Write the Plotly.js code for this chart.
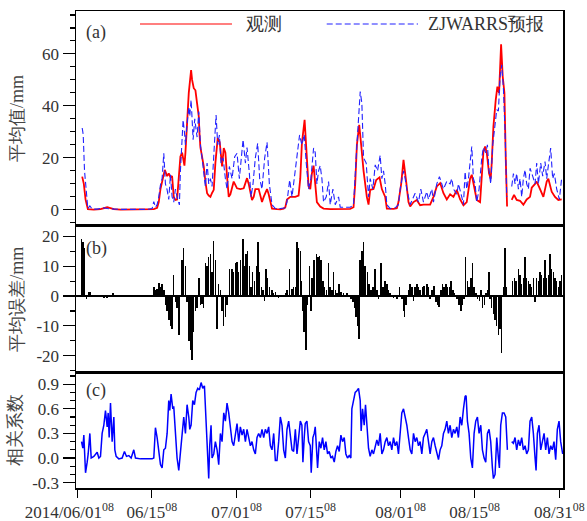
<!DOCTYPE html>
<html>
<head>
<meta charset="utf-8">
<script src="https://cdn.plot.ly/plotly-3.0.1.min.js"></script>
<style>html,body{margin:0;padding:0;background:#fff;}#chart{width:587px;height:521px;}</style>
</head>
<body>
<div id="chart"></div>
<script>
// Time axis: days after 2014/06/01 08 (Beijing time)
const tickDays = [0, 14, 30, 44, 61, 75, 91];
const tickLabels = ["2014/06/01<sup>08</sup>\u00a0\u00a0\u00a0\u00a0", "06/15<sup>08</sup>", "07/01<sup>08</sup>", "07/15<sup>08</sup>", "08/01<sup>08</sup>", "08/15<sup>08</sup>", "08/31<sup>08</sup>"];

// (a) observed mean rainfall [day, mm]
const observed = [[0.83,12.8],[1.14,10],[1.46,4],[1.90,0.3],[2.40,0.2],[3.03,0.1],[4.29,0.3],[4.92,0.8],[5.55,1.0],[6.18,0.7],[6.81,0.3],[8.07,0.1],[9.32,0.1],[10.58,0.1],[11.84,0.1],[13.10,0.1],[14.36,0.3],[14.99,0.8],[15.30,3],[15.62,8],[15.93,11],[16.44,15.4],[16.88,13],[17.19,14],[17.51,12.5],[17.82,13],[18.13,5],[18.45,3.8],[18.76,4],[19.08,12],[19.39,20.5],[19.71,22],[20.02,19],[20.15,17],[20.34,22],[20.65,35],[20.97,45],[21.41,53.8],[21.60,50],[21.91,46.8],[22.23,46],[22.54,41],[22.86,36],[22.98,30],[23.17,24],[23.48,20.5],[23.80,16.7],[24.11,11],[24.43,6.4],[24.74,5.5],[25.06,5],[25.37,6.5],[25.69,7.7],[26.00,18],[26.44,27.6],[26.82,26],[27.26,16.7],[27.58,23.8],[27.89,22],[28.20,13],[28.52,5],[28.83,6],[29.46,10.9],[30.09,8.3],[30.72,8],[31.35,8.3],[31.98,12.2],[32.30,10],[32.61,6],[32.92,3.8],[33.24,5],[33.55,8],[34.18,8],[34.50,5],[34.81,3],[35.13,5],[35.76,8],[36.07,6],[36.39,3],[36.70,0.5],[37.64,0.3],[38.27,0.2],[38.90,0.5],[39.22,1],[39.53,4],[40.16,5],[41.09,5],[41.72,5.5],[42.04,12],[42.35,25.6],[42.86,34.6],[43.30,20],[43.61,9],[43.93,8],[44.24,14],[44.56,17],[44.87,10],[45.18,3],[45.81,1.3],[46.44,0.5],[47.70,0.3],[48.96,0.3],[50.22,0.3],[51.48,0.4],[52.11,1],[52.42,10],[52.74,25],[53.18,32.7],[53.55,25],[54.00,15],[54.62,5],[54.94,2],[55.25,7.7],[55.88,8],[56.39,11.5],[57.02,12.5],[57.46,8],[58.09,5],[58.40,0.5],[59.03,0.4],[59.66,0.4],[60.29,0.6],[60.60,3],[61.11,10],[61.55,19.2],[61.99,12],[62.49,3],[62.81,1.3],[63.44,3],[64.06,3.8],[64.69,1.8],[65.32,2],[66.58,2],[67.21,5],[67.84,9],[68.47,10.3],[69.10,6.4],[69.73,4],[70.36,6],[70.99,5],[71.62,7.7],[72.25,4],[72.88,1.8],[73.50,3],[74.13,12],[74.45,13.5],[74.76,10],[75.39,3.8],[76.02,3],[76.34,15],[76.65,22.4],[76.97,24.4],[77.28,22],[77.72,14],[78.03,12],[78.22,18],[78.54,32],[78.98,42.3],[79.29,47.4],[79.61,45],[79.99,63.7],[80.30,51.3],[80.62,45],[80.87,20],[81.12,1.3],[81.5,null],[82.00,3.8],[82.44,5.8],[82.94,3.8],[83.57,3.5],[84.20,2],[84.83,4],[85.46,5],[85.78,8.5],[86.41,10],[86.72,10.9],[87.35,8],[87.98,5],[88.61,10.9],[88.92,12],[89.55,7],[90.18,5],[90.81,3.8],[91.44,4]];

// (a) ZJWARRS forecast mean rainfall [day, mm]
const forecast = [[0.83,31.5],[1.02,29],[1.27,15],[1.52,8],[1.90,0.5],[2.28,1.5],[2.72,0.3],[3.66,0.3],[4.92,0.8],[5.55,0.5],[6.81,0.3],[8.07,0.2],[9.32,0.2],[10.58,0.3],[11.84,0.2],[13.10,0.2],[14.04,0.5],[14.36,3.2],[14.67,1],[14.99,2],[15.30,5],[15.62,9.6],[15.93,12],[16.25,21.8],[16.56,10],[16.88,7.7],[17.19,4],[17.51,13.5],[17.82,5],[18.13,3],[18.45,8],[18.76,5],[19.20,1.9],[19.39,15],[19.71,28],[19.90,34.6],[20.15,30],[20.34,25],[20.65,33],[20.97,39.7],[21.16,36],[21.41,42.3],[21.60,35],[21.79,27],[22.10,35],[22.35,32],[22.54,28],[22.86,37.8],[23.17,25],[23.48,20],[23.80,15],[24.11,9],[24.43,18],[24.74,10],[25.06,12],[25.37,9],[25.81,25],[26.13,36.5],[26.44,25],[26.76,28.8],[27.07,18],[27.45,20],[27.89,12],[28.20,8],[28.64,16.7],[29.15,12],[29.65,20.5],[30.09,21.8],[30.53,12],[30.85,18],[31.23,27],[31.67,18],[31.98,24],[32.42,14],[32.74,5],[33.11,10],[33.55,20],[33.99,25.6],[34.37,12],[34.81,8],[35.31,19.9],[35.76,26],[36.20,10],[36.70,2],[37.33,0.5],[38.27,0.5],[39.22,0.8],[39.53,3],[40.04,11.5],[40.48,5],[41.41,20],[41.91,28.8],[42.35,25],[42.79,29],[43.17,18],[43.61,8],[44.05,12],[44.56,23.8],[44.87,22],[45.18,10],[45.50,15],[45.81,17],[46.13,12],[46.44,3],[46.95,5],[47.39,10.9],[47.70,2],[48.21,8],[48.65,2],[49.28,5],[49.59,1],[50.53,1],[51.48,1],[52.11,2],[52.42,15],[52.74,25],[53.05,35],[53.37,45.5],[53.68,41],[54.00,20],[54.50,18],[54.94,5],[55.25,12],[55.76,8],[56.20,17.3],[56.64,15],[57.14,21],[57.46,12],[57.77,15],[58.09,10],[58.40,2],[59.03,0.5],[59.97,0.8],[60.60,2],[60.92,8],[61.55,15],[61.86,12],[62.18,8],[62.81,2],[63.44,5],[63.75,6.4],[64.38,3],[64.82,8],[65.32,3],[65.95,7],[66.27,4],[66.90,8],[67.21,3],[67.84,10],[68.34,12.8],[68.78,10],[69.10,8],[69.73,11],[70.36,10],[70.67,12],[70.99,8],[71.62,6],[71.93,10],[72.56,5],[72.88,2],[73.19,14.7],[73.50,8],[73.82,12],[74.45,24.4],[74.76,12],[75.08,10],[75.39,3],[75.83,8],[76.34,20],[76.65,24],[77.09,22],[77.41,25],[77.72,15],[78.03,10],[78.41,25],[78.73,30],[79.17,38.5],[79.48,38],[79.80,51.3],[80.11,55.8],[80.43,46.8],[80.74,30],[81.06,5],[81.5,null],[82.00,9],[82.32,14],[82.63,10],[82.94,14],[83.26,8],[83.57,12],[83.89,5],[84.20,12],[84.52,15.4],[84.83,10],[85.15,8],[85.46,16],[85.96,13],[86.41,10],[86.72,18],[87.04,10],[87.48,18],[87.85,13],[88.29,18.6],[88.61,12],[88.92,17],[89.36,23.8],[89.74,12],[90.05,14],[90.50,8],[91.00,4],[91.44,12.2]];

// (b) mean error [day, mm]
const meanError = [[0.70,19],[1.02,18],[1.27,16],[1.46,0.5],[1.65,-1],[2.09,1.5],[2.40,1.5],[3.03,0.2],[4.29,0.1],[4.92,-0.5],[5.55,-0.6],[6.18,-0.4],[6.68,1],[7.12,0.3],[8.07,0.1],[9.32,0.1],[10.58,0.1],[11.84,0.2],[13.10,0.1],[14.36,3],[14.67,2],[14.99,2.5],[15.30,4.5],[15.62,3],[15.93,4],[16.25,2],[16.56,-3],[16.88,-5],[17.19,-8],[17.51,-10],[17.82,-11],[18.13,7],[18.57,-2],[18.76,-4],[19.08,-13],[19.39,0.5],[19.71,12],[20.02,16],[20.34,10],[20.65,-2],[20.97,-15],[21.28,-18],[21.60,-21.5],[21.91,-12],[22.23,-5],[22.54,-4],[22.86,6],[23.17,-3],[23.48,-2.5],[23.80,-4],[24.11,11],[24.43,10],[24.74,13],[25.06,14],[25.37,8],[25.69,18.5],[26.00,12],[26.32,-11],[26.63,4],[26.95,2],[27.26,-5],[27.58,-10],[27.89,-7],[28.20,-3],[28.71,9],[29.15,9],[29.46,8],[29.78,11],[30.09,11.5],[30.41,8],[30.72,12],[31.23,19],[31.48,10],[31.79,14],[32.11,15],[32.42,10],[32.74,3],[33.05,8],[33.36,5],[33.74,10],[34.06,18],[34.37,8],[34.69,3],[35.00,2],[35.25,-1.5],[35.57,9],[35.88,6],[36.26,3],[36.70,2],[37.02,1],[37.33,1.5],[37.96,-0.5],[38.59,0.5],[39.22,1],[39.53,2],[40.04,9],[40.48,2.5],[40.79,3],[41.11,3],[41.42,18],[41.74,16],[42.05,15],[42.23,5],[42.54,-5],[42.79,-12],[43.11,-18],[43.42,-3],[43.74,10],[44.05,-5],[44.30,6],[44.68,12],[45.06,14],[45.37,13],[45.69,13.5],[46.00,12],[46.32,5],[46.63,3],[46.95,2],[47.39,11],[47.70,3],[48.02,2],[48.33,8],[48.65,2],[48.96,1],[49.40,4],[49.72,1.5],[50.22,1],[50.85,1],[51.29,0.5],[51.67,-1],[51.98,-2],[52.30,-4],[52.61,-7],[52.93,-10],[53.18,-14.5],[53.37,12],[53.68,15],[54.00,18],[54.31,10],[54.75,8],[55.07,4],[55.38,2],[55.76,3],[56.20,9],[56.51,2],[56.83,-1],[57.27,11],[57.65,3],[58.09,5],[58.40,4],[58.71,2],[59.03,1],[59.66,-0.5],[60.29,-1],[60.79,3],[61.23,-1],[61.55,-5],[61.74,-7],[62.05,-3],[62.49,2],[62.81,4],[63.12,3],[63.44,-1.5],[63.75,3],[64.06,4],[64.38,3],[64.69,2],[65.13,3],[65.45,3.5],[65.95,4],[66.27,3],[66.58,-1],[66.90,2],[67.34,3.5],[67.65,-2],[67.97,-3],[68.28,-3.5],[68.60,2],[68.91,4],[69.22,3],[69.54,4],[69.85,3],[70.23,3],[70.55,5],[70.86,2],[71.18,1],[71.62,-1],[72.06,-3],[72.37,-5],[72.69,-3],[73.00,-1],[73.25,13],[73.63,5],[73.94,3],[74.26,6],[74.57,11],[74.89,3],[75.27,1],[75.58,-1],[75.90,-1.5],[76.21,2],[76.52,-4],[76.84,-3],[77.15,1],[77.47,2],[77.72,8],[77.91,-1],[78.22,-4],[78.54,-6],[78.85,-8],[79.17,-10],[79.48,-13],[79.80,-11],[80.11,-19],[80.43,3],[80.74,16],[81.06,3],[81.37,0],[82.19,5],[82.50,6],[82.82,5],[83.26,9],[83.57,7],[83.89,4],[84.20,6],[84.52,13],[84.83,6],[85.15,5],[85.46,4],[85.78,3],[86.09,6],[86.41,-2],[86.72,6],[87.04,5],[87.35,8],[87.66,7],[87.98,6],[88.29,12],[88.61,6],[88.92,7],[89.24,14],[89.55,9],[89.87,8],[90.18,6],[90.50,5],[90.81,3],[91.13,5],[91.44,7]];

// (c) correlation coefficient [day, r]
const correlation = [[0.70,0.2],[0.95,0.12],[1.14,0.28],[1.46,-0.18],[1.77,-0.05],[1.96,0.05],[2.28,0.3],[2.53,0.0],[3.03,0.02],[3.35,0.05],[3.66,0.07],[3.98,0.0],[4.29,0.02],[4.60,0.3],[4.92,0.4],[5.23,0.58],[5.55,0.38],[5.74,0.55],[5.93,0.25],[6.18,0.67],[6.49,0.2],[6.81,0.5],[7.00,0.1],[7.25,0.02],[7.75,-0.01],[8.38,0.0],[8.82,0.08],[9.20,0.02],[9.64,0.03],[10.08,0.0],[10.58,0.1],[10.90,0.0],[11.84,-0.01],[13.10,-0.01],[14.04,-0.01],[14.36,0.0],[14.67,0.37],[14.99,0.25],[15.30,0.05],[15.62,-0.08],[15.93,-0.12],[16.25,0.1],[16.56,0.12],[16.88,0.3],[17.19,0.7],[17.38,0.58],[17.63,0.78],[17.95,0.6],[18.13,0.63],[18.45,0.35],[18.76,0.0],[19.08,-0.15],[19.39,0.1],[19.71,0.3],[20.02,0.5],[20.34,0.3],[20.65,0.65],[20.97,0.5],[21.16,0.35],[21.41,0.4],[21.72,0.7],[22.04,0.65],[22.35,0.8],[22.67,0.85],[22.98,0.83],[23.30,0.92],[23.61,0.85],[23.93,0.88],[24.11,0.6],[24.30,0.5],[24.55,0.1],[24.74,-0.25],[24.93,0.15],[25.18,0.4],[25.37,0.0],[25.69,0.05],[26.00,0.2],[26.32,0.1],[26.63,-0.08],[26.95,0.3],[27.26,0.2],[27.58,0.55],[27.89,0.45],[28.20,0.67],[28.52,0.55],[28.83,0.4],[29.15,0.2],[29.46,0.15],[29.78,0.3],[30.09,0.42],[30.41,0.2],[30.72,0.38],[31.04,0.28],[31.35,0.35],[31.67,0.2],[31.98,0.35],[32.30,0.25],[32.61,0.15],[32.92,0.2],[33.24,0.1],[33.55,0.05],[33.87,0.25],[34.18,0.3],[34.50,0.25],[34.81,0.35],[35.13,0.25],[35.44,0.35],[35.76,0.3],[36.07,0.38],[36.39,0.15],[36.70,0.1],[37.02,0.3],[37.33,-0.03],[37.64,-0.03],[37.96,0.2],[38.27,0.5],[38.59,0.4],[38.90,0.1],[39.22,0.0],[39.53,0.35],[39.85,0.45],[40.16,0.3],[40.48,0.1],[40.79,0.08],[41.11,0.35],[41.42,0.05],[41.74,0.3],[42.05,0.45],[42.35,0.4],[42.54,-0.05],[42.79,0.25],[42.98,0.42],[43.30,0.45],[43.61,0.2],[43.93,0.15],[44.11,-0.18],[44.43,0.25],[44.68,0.3],[44.87,0.38],[45.06,0.1],[45.31,-0.12],[45.63,0.2],[45.94,0.12],[46.25,0.25],[46.57,0.1],[46.88,0.2],[47.20,0.05],[47.51,0.08],[47.83,0.0],[48.14,0.02],[48.46,-0.05],[48.77,0.08],[49.09,0.15],[49.40,0.08],[49.72,0.28],[50.03,0.2],[50.35,0.25],[50.66,0.05],[50.97,0.0],[51.29,0.03],[51.60,0.0],[51.79,0.6],[52.11,0.7],[52.42,0.8],[52.74,0.82],[53.05,0.85],[53.37,0.7],[53.55,0.33],[53.81,0.6],[54.12,0.4],[54.37,0.65],[54.62,0.45],[54.94,0.12],[55.25,0.02],[55.57,0.1],[55.88,0.05],[56.20,0.15],[56.51,0.22],[56.83,0.15],[57.14,0.3],[57.46,0.05],[57.77,0.1],[58.09,0.2],[58.40,0.25],[58.71,0.15],[59.03,0.2],[59.34,0.1],[59.66,0.25],[59.97,0.15],[60.29,0.2],[60.60,0.05],[60.92,0.35],[61.23,0.55],[61.55,0.6],[61.86,0.5],[62.18,0.4],[62.49,0.25],[62.81,0.1],[63.12,0.05],[63.44,0.3],[63.75,0.2],[64.06,0.25],[64.38,0.15],[64.69,0.2],[65.01,0.05],[65.32,0.25],[65.64,0.3],[65.95,0.35],[66.27,0.2],[66.58,0.05],[66.90,0.2],[67.21,0.25],[67.53,0.15],[67.84,0.05],[68.16,-0.02],[68.47,0.1],[68.78,0.15],[69.10,0.3],[69.41,0.35],[69.73,0.45],[70.04,0.3],[70.36,0.4],[70.67,0.25],[70.99,0.35],[71.30,0.3],[71.62,0.38],[71.93,0.25],[72.25,0.5],[72.56,0.4],[72.88,0.6],[73.19,0.75],[73.38,0.76],[73.63,0.45],[73.94,0.3],[74.26,0.0],[74.57,-0.12],[74.89,0.3],[75.20,0.45],[75.52,0.5],[75.83,0.3],[76.15,0.4],[76.46,0.1],[76.78,0.0],[77.09,-0.05],[77.41,0.3],[77.72,0.35],[78.03,0.2],[78.35,-0.12],[78.54,-0.25],[78.85,-0.2],[79.17,0.25],[79.48,0.0],[79.67,-0.12],[79.92,0.4],[80.24,0.55],[80.55,0.55],[80.87,0.5],[81.18,0.1],[81.5,null],[82.00,0.2],[82.32,0.18],[82.63,0.25],[82.94,0.1],[83.26,0.22],[83.57,0.15],[83.89,0.25],[84.20,0.1],[84.52,0.15],[84.83,0.05],[85.15,0.1],[85.46,0.45],[85.78,0.5],[86.09,0.3],[86.41,0.0],[86.60,-0.15],[86.85,0.3],[87.16,0.4],[87.48,0.1],[87.79,0.2],[88.11,0.3],[88.42,0.1],[88.74,0.25],[89.05,0.05],[89.36,0.15],[89.68,0.1],[89.99,0.2],[90.31,-0.02],[90.62,0.35],[90.94,0.45],[91.25,0.2],[91.63,0.05]];

const yTicksA = [0, 20, 40, 60];
const yTicksB = [-20, -10, 0, 10, 20];
const yLabelsB = ["-20", "-10", "0", "10", "20"];
const yTicksC = [-0.3, 0, 0.3, 0.6, 0.9];
const yLabelsC = ["-0.3", "0.0", "0.3", "0.6", "0.9"];

const col = (arr, i) => arr.map(p => p[i]);

const FONT = 'Liberation Serif';
const TXT = '#333333';

const traces = [
  {type:'scatter', mode:'lines', name:'观测', x:col(observed,0), y:col(observed,1), xaxis:'x', yaxis:'y',
   line:{color:'#ff0000', width:1.8}, connectgaps:false, showlegend:false},
  {type:'scatter', mode:'lines', name:'ZJWARRS预报', x:col(forecast,0), y:col(forecast,1), xaxis:'x', yaxis:'y',
   line:{color:'#2222ff', width:1.1, dash:'6px,3px'}, connectgaps:false, showlegend:false},
  {type:'bar', name:'平均误差', x:col(meanError,0), y:col(meanError,1), xaxis:'x2', yaxis:'y2',
   width:0.28, marker:{color:'#000000', line:{width:0}}, showlegend:false},
  {type:'scatter', mode:'lines', name:'相关系数', x:col(correlation,0), y:col(correlation,1), xaxis:'x3', yaxis:'y3',
   line:{color:'#0000ff', width:1.5}, connectgaps:false, showlegend:false}
];

const XR = [-0.34, 91.69];
const frame = {showline:true, mirror:true, linecolor:'#000', linewidth:1.5, showgrid:false, zeroline:false};
const yBase = Object.assign({}, frame, {ticks:'outside', ticklen:12, tickwidth:1.2, tickcolor:'#000',
  tickfont:{family:FONT, size:17, color:TXT}, tickmode:'array'});

const layout = {
  width:587, height:521,
  margin:{l:76, r:24, t:11, b:33},
  paper_bgcolor:'#fff', plot_bgcolor:'#fff',
  font:{family:FONT, size:16, color:TXT},
  bargap:0,
  showlegend:false,
  xaxis: Object.assign({}, frame, {domain:[0,1], anchor:'y', range:XR, matches:'x3', showticklabels:false, ticks:''}),
  xaxis2: Object.assign({}, frame, {domain:[0,1], anchor:'y2', range:XR, matches:'x3', showticklabels:false, ticks:''}),
  xaxis3: Object.assign({}, frame, {domain:[0,1], anchor:'y3', range:XR, tickmode:'array', tickvals:tickDays, ticktext:tickLabels,
    tickangle:0, ticks:'outside', ticklen:8, tickwidth:1.2, tickcolor:'#000', tickfont:{family:FONT, size:17, color:TXT}}),
  yaxis: Object.assign({}, yBase, {domain:[0.5493,1], anchor:'x', range:[-6.2,76.5], tickvals:yTicksA,
    minor:{tickmode:'linear', tick0:0, dtick:5, ticks:'outside', ticklen:5, tickwidth:1.2, tickcolor:'#000', showgrid:false},
    title:{text:'平均值/mm', font:{family:FONT, size:18, color:'#444'}, standoff:14}}),
  yaxis2: Object.assign({}, yBase, {domain:[0.2417,0.5493], anchor:'x2', range:[-25.7,23.5], tickvals:yTicksB, ticktext:yLabelsB,
    zeroline:true, zerolinecolor:'#000', zerolinewidth:1.5,
    minor:{tickmode:'linear', tick0:0, dtick:5, ticks:'outside', ticklen:5, tickwidth:1.2, tickcolor:'#000', showgrid:false},
    title:{text:'平均误差/mm', font:{family:FONT, size:18, color:'#444'}, standoff:8}}),
  yaxis3: Object.assign({}, yBase, {domain:[0,0.2417], anchor:'x3', range:[-0.365,1.04], tickvals:yTicksC, ticktext:yLabelsC,
    minor:{tickmode:'linear', tick0:0, dtick:0.1, ticks:'outside', ticklen:5, tickwidth:1.2, tickcolor:'#000', showgrid:false},
    title:{text:'相关系数', font:{family:FONT, size:18, color:'#444'}, standoff:6}}),
  shapes:[
    {type:'line', xref:'paper', yref:'paper', x0:0.1314, x1:0.3203, y0:0.9727, y1:0.9727, line:{color:'#ff0000', width:1.2}},
    {type:'line', xref:'paper', yref:'paper', x0:0.5148, x1:0.7023, y0:0.9727, y1:0.9727, line:{color:'#2222ff', width:1.1, dash:'6px,3px'}}
  ],
  annotations:[
    {text:'观测', xref:'paper', yref:'paper', x:0.345, y:0.9727, xanchor:'left', yanchor:'middle', showarrow:false, font:{family:FONT, size:18, color:'#333'}},
    {text:'ZJWARRS预报', xref:'paper', yref:'paper', x:0.718, y:0.9727, xanchor:'left', yanchor:'middle', showarrow:false, font:{family:FONT, size:18, color:'#333'}},
    {text:'(a)', xref:'paper', yref:'paper', x:0.016, y:0.981, xanchor:'left', yanchor:'top', showarrow:false, font:{family:FONT, size:18, color:'#333'}},
    {text:'(b)', xref:'paper', yref:'paper', x:0.016, y:0.529, xanchor:'left', yanchor:'top', showarrow:false, font:{family:FONT, size:18, color:'#333'}},
    {text:'(c)', xref:'paper', yref:'paper', x:0.016, y:0.231, xanchor:'left', yanchor:'top', showarrow:false, font:{family:FONT, size:18, color:'#333'}}
  ]
};

Plotly.newPlot('chart', traces, layout, {displayModeBar:false, staticPlot:true});
</script>
</body>
</html>
